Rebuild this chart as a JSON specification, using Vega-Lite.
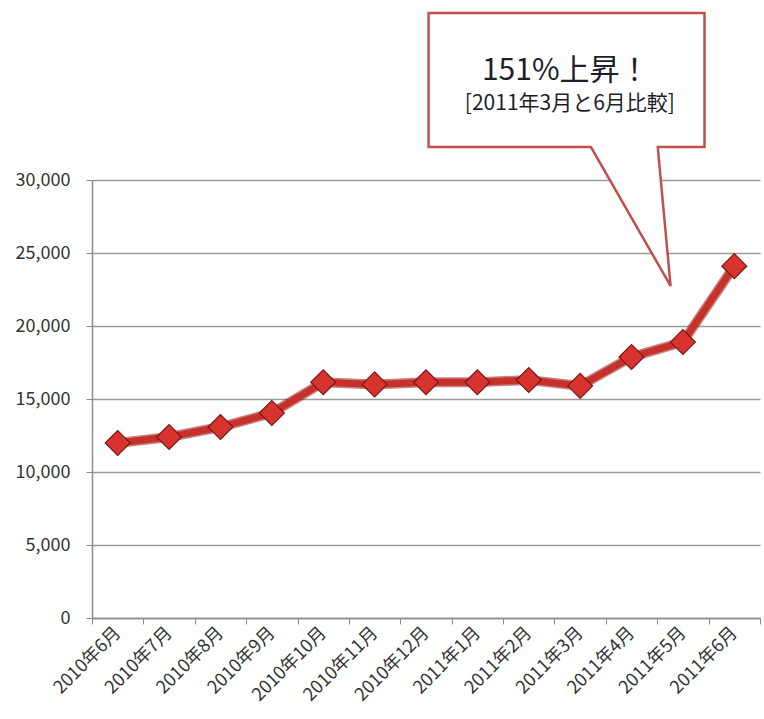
{
  "$schema": "https://vega.github.io/schema/vega-lite/v6.json",
  "width": 668,
  "height": 438,
  "autosize": {"type": "none"},
  "padding": {"left": 92, "top": 180, "right": 4, "bottom": 101},
  "background": "white",
  "config": {
    "view": {"stroke": null},
    "font": "Noto Sans CJK JP",
    "axisY": {
      "labelFontSize": 18, "labelColor": "#333333", "labelPadding": 16,
      "tickSize": 6, "tickColor": "#8c8c8c", "domainColor": "#8c8c8c", "domainWidth": 1.5,
      "grid": true, "gridColor": "#9a9a9a", "gridWidth": 1.3
    }
  },
  "datasets": {
    "main": [
      {"month": "2010年6月", "value": 11990},
      {"month": "2010年7月", "value": 12400},
      {"month": "2010年8月", "value": 13080},
      {"month": "2010年9月", "value": 14040},
      {"month": "2010年10月", "value": 16150},
      {"month": "2010年11月", "value": 16000},
      {"month": "2010年12月", "value": 16150},
      {"month": "2011年1月", "value": 16150},
      {"month": "2011年2月", "value": 16300},
      {"month": "2011年3月", "value": 15900},
      {"month": "2011年4月", "value": 17880},
      {"month": "2011年5月", "value": 18900},
      {"month": "2011年6月", "value": 24100}
    ],
    "callout": [
      {"i": 0, "cx": 9.21, "cy": 32260},
      {"i": 1, "cx": 6.05, "cy": 32260},
      {"i": 2, "cx": 6.05, "cy": 41438},
      {"i": 3, "cx": 11.42, "cy": 41438},
      {"i": 4, "cx": 11.42, "cy": 32260},
      {"i": 5, "cx": 10.51, "cy": 32260},
      {"i": 6, "cx": 10.76, "cy": 22740}
    ],
    "labels": [
      {"tx": 8.72, "ty": 36849, "label": "151%上昇！", "size": 30},
      {"tx": 8.8, "ty": 34795, "label": "[2011年3月と6月比較]", "size": 21}
    ]
  },
  "resolve": {"scale": {"x": "independent"}},
  "layer": [
    {
      "data": {"name": "main"},
      "mark": {"type": "line", "color": "#8e1f1c", "strokeWidth": 10, "opacity": 0.55},
      "encoding": {
        "x": {
          "field": "month", "type": "ordinal", "sort": null, "bandPosition": 0.5,
          "scale": {"type": "band", "paddingInner": 0, "paddingOuter": 0},
          "axis": {
            "title": null, "labelAngle": -45, "labelAlign": "right", "labelBaseline": "middle",
            "labelFontSize": 18, "labelColor": "#333333", "labelPadding": 6,
            "tickBand": "extent", "tickSize": 6, "tickColor": "#8c8c8c",
            "domainColor": "#8c8c8c", "domainWidth": 1.5, "grid": false, "labelOverlap": false
          }
        },
        "y": {
          "field": "value", "type": "quantitative",
          "scale": {"domain": [0, 30000], "nice": false, "zero": true},
          "axis": {"title": null, "values": [0, 5000, 10000, 15000, 20000, 25000, 30000], "format": ",.0f"}
        }
      }
    },
    {
      "data": {"name": "main"},
      "mark": {"type": "line", "color": "#c8302c", "strokeWidth": 7},
      "encoding": {
        "x": {"field": "month", "type": "ordinal", "sort": null, "bandPosition": 0.5, "scale": {"type": "band", "paddingInner": 0, "paddingOuter": 0}, "axis": null},
        "y": {"field": "value", "type": "quantitative", "axis": {"title": null, "values": [0, 5000, 10000, 15000, 20000, 25000, 30000], "format": ",.0f"}}
      }
    },
    {
      "data": {"name": "main"},
      "mark": {"type": "point", "shape": "diamond", "filled": true, "size": 620, "fill": "#d8342f", "stroke": "#7a1715", "strokeWidth": 1.2, "opacity": 1},
      "encoding": {
        "x": {"field": "month", "type": "ordinal", "sort": null, "bandPosition": 0.5, "scale": {"type": "band", "paddingInner": 0, "paddingOuter": 0}, "axis": null},
        "y": {"field": "value", "type": "quantitative", "axis": {"title": null, "values": [0, 5000, 10000, 15000, 20000, 25000, 30000], "format": ",.0f"}}
      }
    },
    {
      "data": {"name": "callout"},
      "mark": {"type": "line", "interpolate": "linear-closed", "fill": "white", "stroke": "#c0504d", "strokeWidth": 2.5},
      "encoding": {
        "x": {"field": "cx", "type": "quantitative", "scale": {"domain": [-0.5, 12.5], "nice": false, "zero": false}, "axis": null},
        "y": {"field": "cy", "type": "quantitative", "axis": {"title": null, "values": [0, 5000, 10000, 15000, 20000, 25000, 30000], "format": ",.0f"}},
        "order": {"field": "i", "type": "quantitative"}
      }
    },
    {
      "data": {"name": "labels"},
      "mark": {"type": "text", "align": "center", "baseline": "alphabetic", "color": "#1e1e2a", "font": "Noto Sans CJK JP"},
      "encoding": {
        "x": {"field": "tx", "type": "quantitative", "scale": {"domain": [-0.5, 12.5], "nice": false, "zero": false}, "axis": null},
        "y": {"field": "ty", "type": "quantitative", "axis": {"title": null, "values": [0, 5000, 10000, 15000, 20000, 25000, 30000], "format": ",.0f"}},
        "text": {"field": "label"},
        "size": {"field": "size", "type": "quantitative", "scale": null}
      }
    }
  ]
}
